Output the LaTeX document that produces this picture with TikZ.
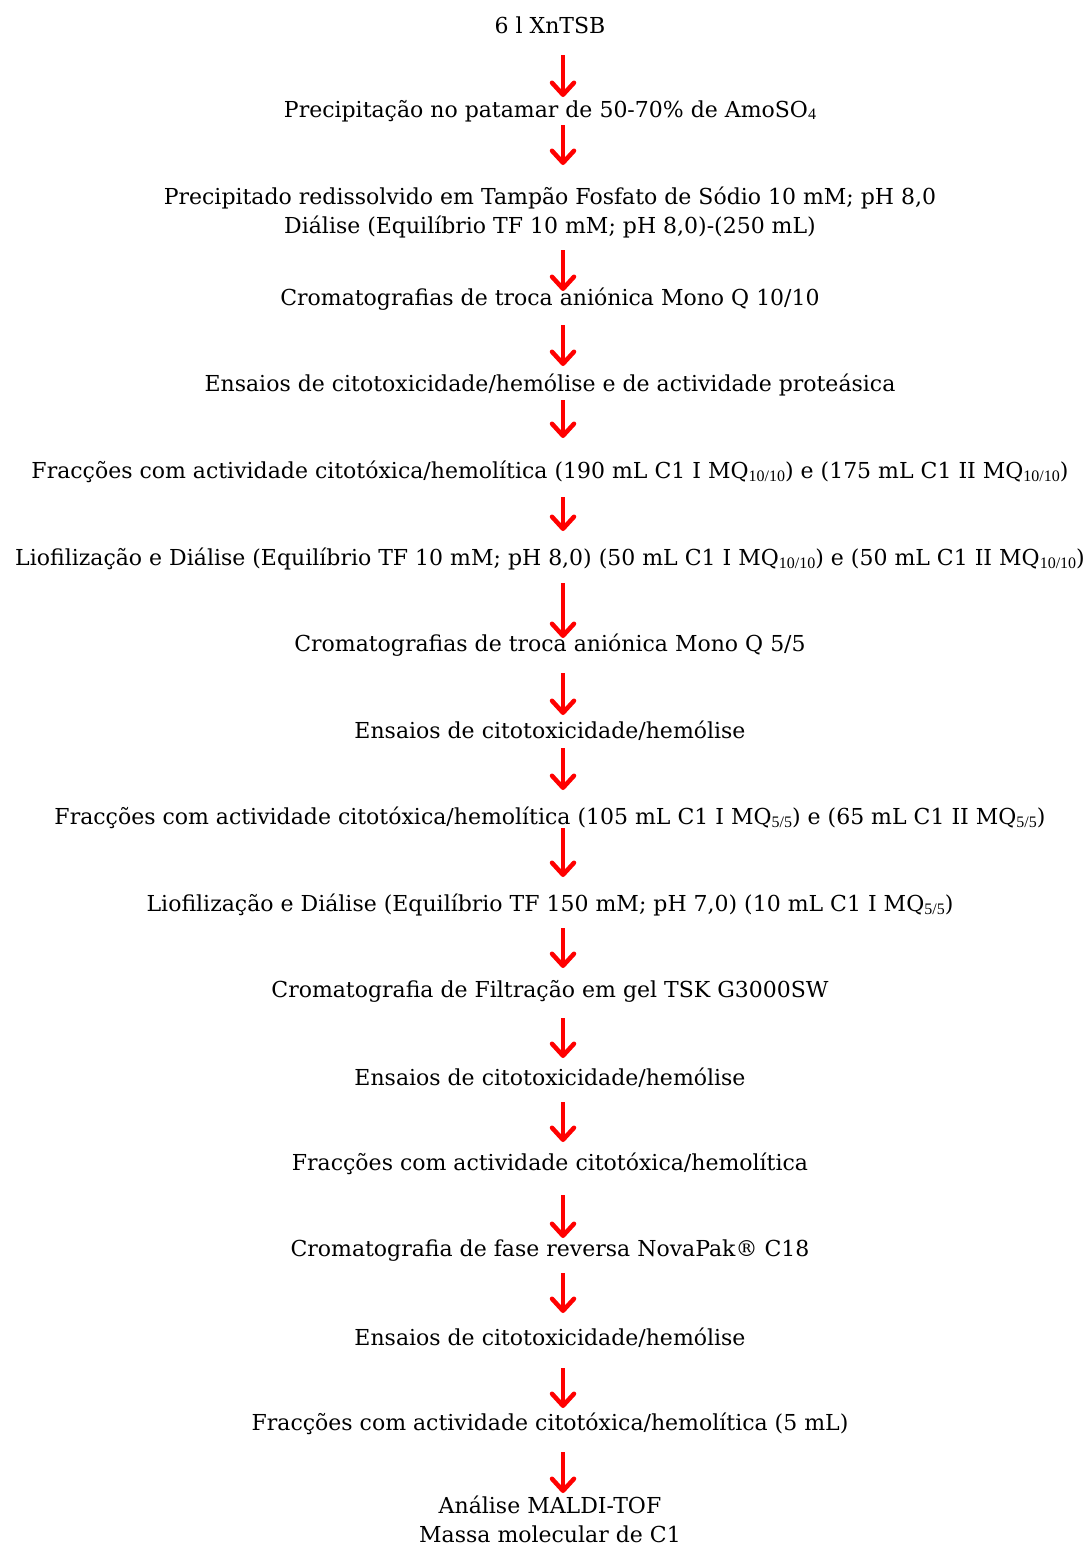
\documentclass[tikz,border=0pt]{standalone}
\usepackage{fontspec}
\setmainfont{DejaVu Serif}
\newfontfamily\subf{Liberation Serif}
\usetikzlibrary{arrows.meta}
\newcommand\sbs[1]{\raisebox{-2.5pt}{\subf\fontsize{16}{16}\selectfont #1}}
\tikzset{
  txt/.style={font=\fontsize{22}{29}\selectfont, align=center, inner sep=0pt, anchor=center},
  arr/.style={draw=red, line width=4pt, -{Straight Barb[length=12pt,width=22pt,line width=4.5pt,round]}}
}
\begin{document}
\begin{tikzpicture}[x=1pt,y=-1pt]
\useasboundingbox (0,0) rectangle (1090,1548);
\node[txt] (n1) at (550,25) {6 l XnTSB};
\node[txt] (n2) at (550,111) {Precipitação no patamar de 50-70\% de AmoSO\sbs{4}};
\node[txt] (n3) at (550,212.5) {Precipitado redissolvido em Tampão Fosfato de Sódio 10 mM; pH 8,0\\Diálise (Equilíbrio TF 10 mM; pH 8,0)-(250 mL)};
\node[txt] (n4) at (550,299) {Cromatografias de troca aniónica Mono Q 10/10};
\node[txt] (n5) at (550,385) {Ensaios de citotoxicidade/hemólise e de actividade proteásica};
\node[txt] (n6) at (550,472) {Fracções com actividade citotóxica/hemolítica (190 mL C1 I MQ\sbs{10/10}) e (175 mL C1 II MQ\sbs{10/10})};
\node[txt] (n7) at (550,559) {Liofilização e Diálise (Equilíbrio TF 10 mM; pH 8,0) (50 mL C1 I MQ\sbs{10/10}) e (50 mL C1 II MQ\sbs{10/10})};
\node[txt] (n8) at (550,645) {Cromatografias de troca aniónica Mono Q 5/5};
\node[txt] (n9) at (550,731) {Ensaios de citotoxicidade/hemólise};
\node[txt] (n10) at (550,818) {Fracções com actividade citotóxica/hemolítica (105 mL C1 I MQ\sbs{5/5}) e (65 mL C1 II MQ\sbs{5/5})};
\node[txt] (n11) at (550,905) {Liofilização e Diálise (Equilíbrio TF 150 mM; pH 7,0) (10 mL C1 I MQ\sbs{5/5})};
\node[txt] (n12) at (550,991) {Cromatografia de Filtração em gel TSK G3000SW};
\node[txt] (n13) at (550,1078) {Ensaios de citotoxicidade/hemólise};
\node[txt] (n14) at (550,1164) {Fracções com actividade citotóxica/hemolítica};
\node[txt] (n15) at (550,1251) {Cromatografia de fase reversa NovaPak® C18};
\node[txt] (n16) at (550,1338) {Ensaios de citotoxicidade/hemólise};
\node[txt] (n17) at (550,1424) {Fracções com actividade citotóxica/hemolítica (5 mL)};
\node[txt] (n18) at (550,1519) {Análise MALDI-TOF\\Massa molecular de C1};
\foreach \i/\s/\e in {1/55/97,2/125/165,3/250/291,4/325/366,5/400/438,6/497/531,7/583/638,8/673/715,9/748/790,10/828/877,11/928/968,12/1018/1058,13/1102/1142,14/1195/1238,15/1273/1313,16/1368/1408,17/1452/1493}{
  \coordinate (s\i) at (563,\s);
  \coordinate (e\i) at (563,\e);
  \draw[arr] (s\i) -- (e\i);
}
\end{tikzpicture}
\end{document}
